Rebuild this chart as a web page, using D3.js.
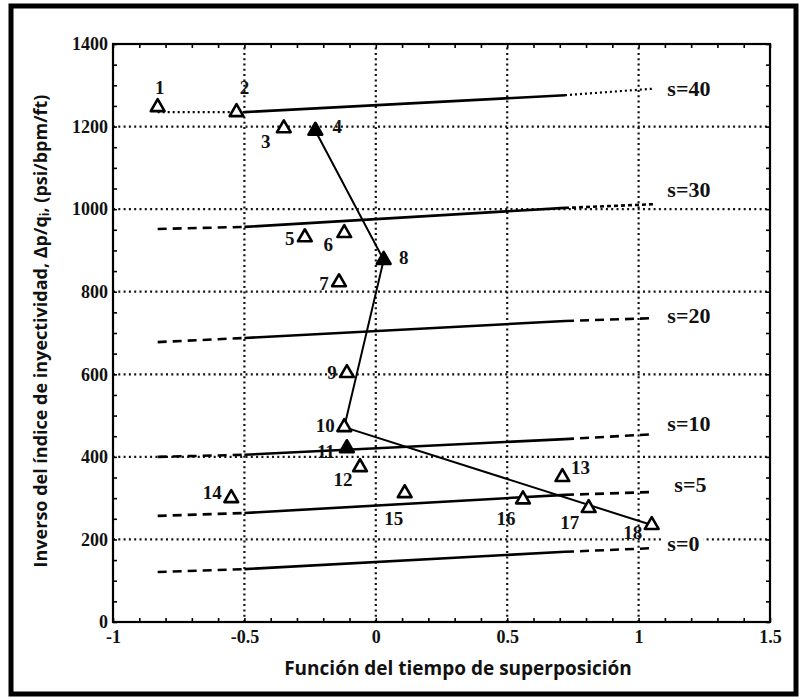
<!DOCTYPE html>
<html>
<head>
<meta charset="utf-8">
<script src="https://cdn.jsdelivr.net/npm/d3@7"></script>
<style>
  html, body { margin: 0; padding: 0; background: #fff; }
  svg { display: block; }
</style>
</head>
<body>
<svg id="chart" width="803" height="700"></svg>
<script>
// Injection test points: superposition-time function vs. inverse injectivity index
const pointIds = [1, 2, 3, 4, 5, 6, 7, 8, 9, 10, 11, 12, 13, 14, 15, 16, 17, 18];
const pointX = [-0.83, -0.53, -0.35, -0.23, -0.27, -0.12, -0.14, 0.03, -0.11, -0.12, -0.11, -0.06, 0.71, -0.55, 0.11, 0.56, 0.81, 1.05];
const pointY = [1247, 1235, 1196, 1190, 932, 942, 823, 877, 603, 472, 421, 375, 351, 300, 312, 297, 276, 235];
const filledIds = [4, 8, 11];

// Trend path through the turning points
const trendIds = [4, 8, 10, 18];

// Reference skin-factor curves: values at the break points
const skinValues = [40, 30, 20, 10, 5, 0];
const skinBreakX = [-0.83, -0.5, 0.72, 1.06];
const skinCurveY = [
  [1235, 1235, 1276, 1292],
  [952, 957, 1003, 1012],
  [678, 688, 729, 736],
  [400, 405, 443, 455],
  [257, 264, 308, 315],
  [121, 128, 170, 179]
];

// Axis ticks
const xTicks = [-1, -0.5, 0, 0.5, 1, 1.5];
const yTicks = [0, 200, 400, 600, 800, 1000, 1200, 1400];
const xTickLabels = ["-1", "-0.5", "0", "0.5", "1", "1.5"];
const yTickLabels = ["0", "200", "400", "600", "800", "1000", "1200", "1400"];

// Layout of point labels (pixel offsets from each marker)
const labelOffsets = [
  [2, -20], [8, -25], [-18, 13], [22, -4], [-15, 1], [-16, 11], [-15, 1], [20, -2], [-15, -1],
  [-19, -2], [-21, 3], [-17, 12], [18, -10], [-19, -6], [-11, 25], [-17, 19], [-19, 14], [-19, 8]
];
// Layout of curve labels (pixel offsets from each curve end)
const skinLabelOffsets = [[13, 0], [13, -15], [13, -3], [13, -11], [20, -7], [13, -5]];

const svg = d3.select("#chart");
const x = d3.scaleLinear().domain([-1, 1.5]).range([113, 770]);
const y = d3.scaleLinear().domain([0, 1400]).range([622, 44]);

const serif = "'Liberation Serif', 'Times New Roman', serif";
const sans = "'Open Sans', 'Noto Sans', sans-serif";

// Outer frame
svg.append("rect")
  .attr("x", 11).attr("y", 6).attr("width", 785).attr("height", 688)
  .attr("fill", "none").attr("stroke", "#000").attr("stroke-width", 5);

// Dotted grid
const grid = svg.append("g").attr("stroke", "#111").attr("stroke-width", 2.2)
  .attr("stroke-dasharray", "2,3.3").attr("fill", "none");
xTicks.filter(v => v > -1 && v < 1.5).forEach(v => {
  grid.append("line").attr("x1", x(v)).attr("x2", x(v)).attr("y1", y(0)).attr("y2", y(1400));
});
yTicks.filter(v => v > 0 && v < 1400).forEach(v => {
  grid.append("line").attr("x1", x(-1)).attr("x2", x(1.5)).attr("y1", y(v)).attr("y2", y(v));
});

// Minor ticks on all four sides, pointing inward
const minorX = d3.range(-1, 1.5001, 0.1);
const minorY = d3.range(0, 1400.1, 50);
svg.append("g").attr("transform", `translate(0,${y(0)})`)
  .call(d3.axisBottom(x).tickValues(minorX).tickSize(-4).tickFormat(""))
  .call(g => g.select(".domain").remove());
svg.append("g").attr("transform", `translate(0,${y(1400)})`)
  .call(d3.axisTop(x).tickValues(minorX).tickSize(-4).tickFormat(""))
  .call(g => g.select(".domain").remove());
svg.append("g").attr("transform", `translate(${x(-1)},0)`)
  .call(d3.axisLeft(y).tickValues(minorY).tickSize(-4).tickFormat(""))
  .call(g => g.select(".domain").remove());
svg.append("g").attr("transform", `translate(${x(1.5)},0)`)
  .call(d3.axisRight(y).tickValues(minorY).tickSize(-4).tickFormat(""))
  .call(g => g.select(".domain").remove());
svg.selectAll(".tick line").attr("stroke", "#000").attr("stroke-width", 1.6);

// Plot frame
svg.append("rect")
  .attr("x", x(-1)).attr("y", y(1400))
  .attr("width", x(1.5) - x(-1)).attr("height", y(0) - y(1400))
  .attr("fill", "none").attr("stroke", "#000").attr("stroke-width", 2.2);

// Tick labels
const yAxis = svg.append("g").attr("transform", `translate(${x(-1)},0)`)
  .call(d3.axisLeft(y).tickValues(yTicks).tickSize(0).tickPadding(5)
    .tickFormat((d, i) => yTickLabels[i]));
yAxis.select(".domain").remove();
yAxis.selectAll("text").attr("font-family", serif).attr("font-size", 18)
  .attr("font-weight", "bold").attr("fill", "#111");

const xAxis = svg.append("g").attr("transform", `translate(0,${y(0)})`)
  .call(d3.axisBottom(x).tickValues(xTicks).tickSize(0).tickPadding(8)
    .tickFormat((d, i) => xTickLabels[i]));
xAxis.select(".domain").remove();
xAxis.selectAll("text").attr("font-family", serif).attr("font-size", 18)
  .attr("font-weight", "bold").attr("fill", "#111");

// Skin curves: dashed left extension, solid middle, dashed right extension
const seg = d3.line().x(d => x(d[0])).y(d => y(d[1]));
const curves = svg.append("g").attr("fill", "none").attr("stroke", "#000");
skinValues.forEach((s, i) => {
  const p = skinBreakX.map((bx, k) => [bx, skinCurveY[i][k]]);
  const dotted = s === 40;
  curves.append("path").attr("d", seg([p[0], p[1]]))
    .attr("stroke-width", dotted ? 2.2 : 2.6)
    .attr("stroke-dasharray", dotted ? "2,3" : "9,6");
  curves.append("path").attr("d", seg([p[1], p[2]])).attr("stroke-width", 2.6);
  curves.append("path").attr("d", seg([p[2], p[3]]))
    .attr("stroke-width", dotted ? 2.2 : 2.6)
    .attr("stroke-dasharray", dotted ? "2,3" : (s === 30 ? "4,3" : "9,6"));

  const end = p[3];
  const off = skinLabelOffsets[i];
  const lbl = svg.append("g")
    .attr("transform", `translate(${x(end[0]) + off[0]},${y(end[1]) + off[1]})`);
  const t = lbl.append("text").text("s=" + s)
    .attr("font-family", serif).attr("font-size", 22).attr("font-weight", "bold")
    .attr("dominant-baseline", "central").attr("fill", "#111");
  const bb = t.node().getBBox();
  lbl.insert("rect", "text").attr("x", bb.x - 4).attr("y", bb.y + 3)
    .attr("width", bb.width + 8).attr("height", bb.height - 6).attr("fill", "#fff");
});

// Trend line
const pts = pointIds.map((id, i) => ({ id, x: pointX[i], y: pointY[i], off: labelOffsets[i] }));
const byId = new Map(pts.map(p => [p.id, p]));
svg.append("path")
  .attr("d", d3.line().x(d => x(d.x)).y(d => y(d.y))(trendIds.map(id => byId.get(id))))
  .attr("fill", "none").attr("stroke", "#000").attr("stroke-width", 2);

// Triangle markers
const tri = d3.symbol().type(d3.symbolTriangle).size(82);
svg.append("g").selectAll("path").data(pts).join("path")
  .attr("d", tri)
  .attr("transform", d => `translate(${x(d.x)},${y(d.y)})`)
  .attr("fill", d => filledIds.includes(d.id) ? "#000" : "#fff")
  .attr("stroke", "#000").attr("stroke-width", 2.6).attr("stroke-linejoin", "round");

// Point numbers
svg.append("g").selectAll("text").data(pts).join("text")
  .attr("x", d => x(d.x) + d.off[0])
  .attr("y", d => y(d.y) + d.off[1])
  .attr("text-anchor", "middle").attr("dominant-baseline", "central")
  .attr("font-family", serif).attr("font-size", 19).attr("font-weight", "bold")
  .attr("fill", "#111")
  .text(d => d.id);

// Axis titles
svg.append("text")
  .attr("x", 458).attr("y", 668)
  .attr("text-anchor", "middle").attr("dominant-baseline", "central")
  .attr("font-family", sans).attr("font-size", 19).attr("font-weight", "bold")
  .attr("fill", "#111")
  .text("Función del tiempo de superposición");

const yt = svg.append("text")
  .attr("transform", "translate(40,331) rotate(-90)")
  .attr("text-anchor", "middle").attr("dominant-baseline", "central")
  .attr("font-family", sans).attr("font-size", 18).attr("font-weight", "bold")
  .attr("fill", "#111");
yt.append("tspan").text("Inverso del índice de inyectividad, Δp/q");
yt.append("tspan").attr("font-size", 12).attr("dy", 4).text("i");
yt.append("tspan").attr("dy", -4).text(", (psi/bpm/ft)");
</script>
</body>
</html>
